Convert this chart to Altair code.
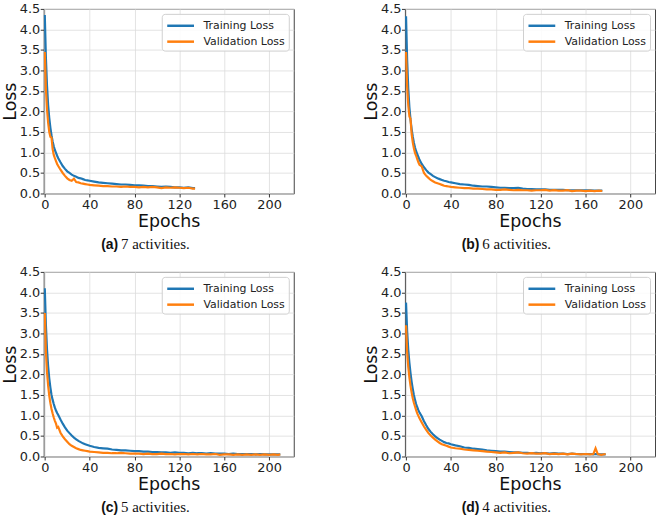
import altair as alt
import pandas as pd

# ---- loss curves per experiment (epoch, training loss, validation loss) ----
a_epochs = [0, 1, 2, 3, 4, 5, 6, 7, 8, 9, 10, 11, 12,
            14, 16, 18, 20, 22, 24, 26, 28, 30, 32, 34, 36, 38, 40,
            44, 48, 52, 56, 60, 64, 68, 72, 76, 80, 84, 88, 92, 96, 100,
            104, 108, 112, 116, 120, 124, 128, 132, 134]
a_train = [4.35, 3.30, 2.62, 2.15, 1.84, 1.60, 1.42, 1.27, 1.15, 1.06, 0.99, 0.92, 0.86,
           0.76, 0.67, 0.60, 0.54, 0.50, 0.46, 0.43, 0.41, 0.38, 0.37, 0.35, 0.33, 0.32, 0.31,
           0.29, 0.27, 0.26, 0.25, 0.24, 0.23, 0.22, 0.22, 0.21, 0.20, 0.20, 0.19, 0.18, 0.18, 0.17,
           0.16, 0.17, 0.16, 0.15, 0.15, 0.14, 0.15, 0.13, 0.13]
a_val = [3.45, 2.55, 2.05, 1.72, 1.50, 1.38, 1.36, 1.08, 0.94, 0.86, 0.79, 0.72, 0.67,
         0.58, 0.50, 0.43, 0.37, 0.33, 0.31, 0.36, 0.28, 0.27, 0.25, 0.24, 0.23, 0.22, 0.21,
         0.20, 0.19, 0.18, 0.18, 0.17, 0.17, 0.16, 0.17, 0.16, 0.16, 0.15, 0.16, 0.15, 0.16, 0.15,
         0.13, 0.15, 0.14, 0.15, 0.14, 0.13, 0.14, 0.12, 0.12]

b_epochs = [0, 1, 2, 3, 4, 5, 6, 7, 8, 9, 10, 11, 12,
            14, 16, 18, 20, 22, 24, 26, 28, 30, 32, 34, 36, 38, 40,
            44, 48, 52, 56, 60, 64, 68, 72, 76, 80, 84, 88, 92, 96, 100,
            104, 108, 112, 116, 120, 124, 128, 132, 136, 140, 144, 148, 152,
            156, 160, 164, 168, 172, 175]
b_train = [4.32, 3.25, 2.55, 2.10, 1.80, 1.57, 1.39, 1.24, 1.12, 1.03, 0.96, 0.89, 0.82,
           0.72, 0.64, 0.57, 0.51, 0.47, 0.43, 0.40, 0.37, 0.35, 0.33, 0.31, 0.30, 0.28, 0.27,
           0.25, 0.23, 0.22, 0.21, 0.19, 0.18, 0.17, 0.17, 0.16, 0.15, 0.14, 0.14, 0.13, 0.13, 0.14,
           0.12, 0.11, 0.11, 0.10, 0.10, 0.10, 0.09, 0.09, 0.09, 0.09, 0.08, 0.08, 0.08,
           0.08, 0.08, 0.08, 0.07, 0.07, 0.07]
b_val = [3.45, 2.60, 2.15, 1.88, 1.82, 1.45, 1.25, 1.10, 0.99, 0.92, 0.84, 0.76, 0.70,
         0.66, 0.50, 0.43, 0.38, 0.33, 0.30, 0.27, 0.25, 0.23, 0.21, 0.19, 0.18, 0.17, 0.16,
         0.15, 0.14, 0.13, 0.13, 0.12, 0.12, 0.11, 0.10, 0.10, 0.09, 0.09, 0.10, 0.09, 0.08, 0.09,
         0.08, 0.08, 0.07, 0.08, 0.08, 0.09, 0.07, 0.08, 0.07, 0.07, 0.08, 0.06, 0.07,
         0.07, 0.06, 0.07, 0.06, 0.07, 0.06]

c_epochs = [0, 1, 2, 3, 4, 5, 6, 7, 8, 9, 10, 11, 12,
            14, 16, 18, 20, 22, 24, 26, 28, 30, 32, 34, 36, 38, 40,
            44, 48, 52, 56, 60, 64, 68, 72, 76, 80, 84, 88, 92, 96, 100,
            104, 108, 112, 116, 120, 124, 128, 132, 136, 140, 144, 148, 152,
            156, 160, 164, 168, 172, 176, 180, 184, 188, 192, 196, 200, 204, 208, 210]
c_train = [4.10, 3.20, 2.60, 2.20, 1.90, 1.68, 1.50, 1.38, 1.28, 1.19, 1.12, 1.06, 1.01,
           0.90, 0.80, 0.71, 0.63, 0.57, 0.51, 0.46, 0.42, 0.38, 0.35, 0.32, 0.30, 0.28, 0.26,
           0.23, 0.21, 0.20, 0.19, 0.17, 0.16, 0.15, 0.15, 0.14, 0.13, 0.13, 0.12, 0.12, 0.11, 0.11,
           0.10, 0.10, 0.09, 0.10, 0.09, 0.09, 0.08, 0.09, 0.08, 0.08, 0.07, 0.08, 0.07,
           0.07, 0.07, 0.06, 0.07, 0.06, 0.06, 0.06, 0.06, 0.05, 0.06, 0.05, 0.05, 0.05, 0.05, 0.05]
c_val = [3.50, 2.55, 2.05, 1.72, 1.48, 1.30, 1.16, 1.05, 0.95, 0.87, 0.80, 0.70, 0.72,
         0.58, 0.49, 0.42, 0.36, 0.30, 0.26, 0.23, 0.20, 0.18, 0.16, 0.15, 0.14, 0.13, 0.12,
         0.11, 0.10, 0.09, 0.09, 0.08, 0.08, 0.09, 0.08, 0.07, 0.07, 0.07, 0.06, 0.07, 0.06, 0.06,
         0.07, 0.06, 0.06, 0.05, 0.06, 0.06, 0.05, 0.06, 0.05, 0.06, 0.05, 0.05, 0.06,
         0.04, 0.05, 0.05, 0.04, 0.05, 0.04, 0.05, 0.04, 0.05, 0.04, 0.05, 0.04, 0.05, 0.04, 0.05]

d_epochs = [0, 1, 2, 3, 4, 5, 6, 7, 8, 9, 10, 11, 12,
            14, 16, 18, 20, 22, 24, 26, 28, 30, 32, 34, 36, 38, 40,
            44, 48, 52, 56, 60, 64, 68, 72, 76, 80, 84, 88, 92, 96, 100,
            104, 108, 112, 116, 120, 124, 128, 132, 136, 140, 144, 148, 152,
            156, 160, 164, 167, 169, 171, 174, 178]
d_train = [3.75, 3.05, 2.60, 2.28, 2.03, 1.82, 1.65, 1.50, 1.38, 1.28, 1.20, 1.13, 1.07,
           0.98, 0.86, 0.76, 0.67, 0.60, 0.54, 0.49, 0.45, 0.41, 0.38, 0.35, 0.33, 0.32, 0.30,
           0.27, 0.25, 0.22, 0.21, 0.19, 0.18, 0.17, 0.15, 0.14, 0.13, 0.12, 0.12, 0.11, 0.10, 0.10,
           0.09, 0.09, 0.08, 0.09, 0.08, 0.08, 0.07, 0.08, 0.07, 0.07, 0.06, 0.07, 0.06,
           0.06, 0.06, 0.06, 0.05, 0.06, 0.05, 0.05, 0.05]
d_val = [3.20, 2.55, 2.18, 1.92, 1.72, 1.56, 1.42, 1.31, 1.22, 1.13, 1.05, 0.99, 0.93,
         0.83, 0.73, 0.65, 0.57, 0.51, 0.46, 0.41, 0.37, 0.33, 0.30, 0.28, 0.26, 0.24, 0.22,
         0.20, 0.19, 0.17, 0.16, 0.15, 0.14, 0.13, 0.12, 0.11, 0.10, 0.09, 0.10, 0.08, 0.09, 0.10,
         0.08, 0.07, 0.08, 0.07, 0.07, 0.08, 0.06, 0.07, 0.06, 0.07, 0.05, 0.07, 0.06,
         0.05, 0.06, 0.05, 0.06, 0.20, 0.06, 0.04, 0.06]

panel_tags = ["(a)", "(b)", "(c)", "(d)"]
panel_desc = ["7 activities.", "6 activities.", "5 activities.", "4 activities."]
series_names = ["Training Loss", "Validation Loss"]
series_colors = ["#1f77b4", "#ff7f0e"]
x_ticks = [0, 40, 80, 120, 160, 200]
y_ticks = [0.0, 0.5, 1.0, 1.5, 2.0, 2.5, 3.0, 3.5, 4.0, 4.5]

W, H = 252, 186
SANS = "DejaVu Sans"
# wide, flat legend key: a horizontal dash twice as long as the symbol box
DASH = "M-2,0H2"


def long_frame(epochs, train, val):
    return pd.concat([
        pd.DataFrame({"epoch": epochs, "loss": train, "series": series_names[0]}),
        pd.DataFrame({"epoch": epochs, "loss": val, "series": series_names[1]}),
    ], ignore_index=True)


def panel(epochs, train, val, tag, desc):
    df = long_frame(epochs, train, val)
    lines = alt.Chart(df).mark_line(strokeWidth=2.2, clip=True).encode(
        x=alt.X("epoch:Q",
                scale=alt.Scale(domain=[-1, 222], nice=False, zero=False),
                axis=alt.Axis(values=x_ticks, title="Epochs", format="d")),
        y=alt.Y("loss:Q",
                scale=alt.Scale(domain=[0, 4.5], nice=False),
                axis=alt.Axis(values=y_ticks, title="Loss", format=".1f")),
        color=alt.Color("series:N",
                        scale=alt.Scale(domain=series_names, range=series_colors),
                        legend=alt.Legend(title=None, orient="top-right", offset=5,
                                          symbolType=DASH, symbolSize=182,
                                          symbolOffset=7, symbolStrokeWidth=2.5,
                                          labelFontSize=11, labelFont=SANS,
                                          labelColor="#222", labelOffset=15,
                                          rowPadding=3, padding=4,
                                          fillColor="rgba(255,255,255,0.85)",
                                          strokeColor="#d0d0d0", cornerRadius=3)),
    )
    cap = pd.DataFrame({"tag": [tag], "desc": [desc]})
    tag_text = alt.Chart(cap).mark_text(
        align="right", baseline="alphabetic", font="Liberation Sans",
        fontWeight="bold", fontSize=14, color="#111"
    ).encode(text="tag:N", x=alt.value(75), y=alt.value(H + 56))
    desc_text = alt.Chart(cap).mark_text(
        align="left", baseline="alphabetic", font="Liberation Serif",
        fontSize=15, color="#111"
    ).encode(text="desc:N", x=alt.value(78), y=alt.value(H + 56))
    return alt.layer(lines, tag_text, desc_text).properties(width=W, height=H)


panels = [
    panel(a_epochs, a_train, a_val, panel_tags[0], panel_desc[0]),
    panel(b_epochs, b_train, b_val, panel_tags[1], panel_desc[1]),
    panel(c_epochs, c_train, c_val, panel_tags[2], panel_desc[2]),
    panel(d_epochs, d_train, d_val, panel_tags[3], panel_desc[3]),
]

chart = alt.concat(*panels, columns=2, spacing={"row": 12, "column": 67}).resolve_scale(
    color="independent"
).resolve_legend(color="independent").properties(
    padding={"left": 0, "top": 0, "right": 0, "bottom": 0}
).configure_view(
    stroke="#444", strokeWidth=1
).configure_axis(
    labelFont=SANS, labelFontSize=13, labelColor="#222",
    titleFont=SANS, titleFontSize=17.5, titleFontWeight="normal", titleColor="#111",
    gridColor="#dcdcdc", gridWidth=0.8, domain=False,
    tickColor="#333", tickSize=3.5, labelPadding=0.5,
    labelFlush=False, labelOverlap=False,
).configure_axisY(titlePadding=0).configure_axisX(titlePadding=1, labelPadding=1.5)

chart.save("out.html", embed_options={"renderer": "svg", "actions": False})
